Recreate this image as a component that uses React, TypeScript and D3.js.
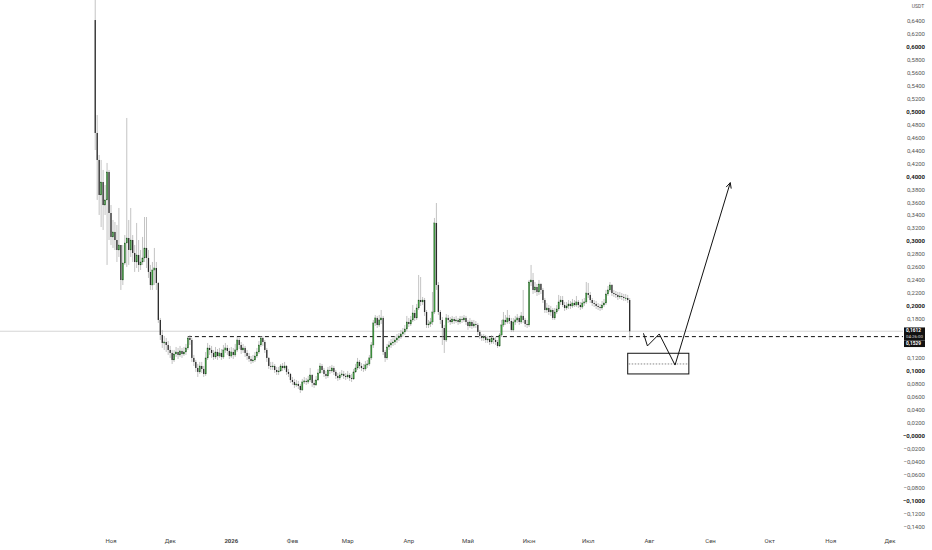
import { useEffect, useRef } from 'react';
import * as d3 from 'd3';

const WIDTH = 932;
const HEIGHT = 550;
const PLOT_RIGHT = 903;

// daily candles, first one on 2025-10-24; open of each day = previous close
const firstDay = '2025-10-24';
const firstOpen = 0.6415;

const closes = [
  0.4672, 0.4255, 0.3715, 0.3915, 0.3560, 0.3638, 0.4070, 0.3437, 0.3067, 0.3144,
  0.3020, 0.2866, 0.2943, 0.2403, 0.2665, 0.2974, 0.3051, 0.2866, 0.3020, 0.2820,
  0.2681, 0.2789, 0.2635, 0.2681, 0.2743, 0.2897, 0.2743, 0.2527, 0.2326, 0.2557,
  0.2588, 0.2357, 0.1786, 0.1554, 0.1431, 0.1446, 0.1400, 0.1323, 0.1277, 0.1169,
  0.1261, 0.1292, 0.1246, 0.1308, 0.1261, 0.1292, 0.1354, 0.1508, 0.1477, 0.1200,
  0.1138, 0.1045, 0.0984, 0.1076, 0.1030, 0.0953, 0.1200, 0.1354, 0.1323, 0.1277,
  0.1215, 0.1292, 0.1230, 0.1277, 0.1215, 0.1323, 0.1354, 0.1308, 0.1230, 0.1292,
  0.1246, 0.1323, 0.1477, 0.1400, 0.1323, 0.1354, 0.1277, 0.1230, 0.1184, 0.1153,
  0.1169, 0.1230, 0.1292, 0.1400, 0.1508, 0.1446, 0.1323, 0.1200, 0.1076, 0.1061,
  0.1076, 0.1014, 0.0984, 0.0999, 0.1076, 0.1045, 0.1076, 0.0984, 0.0953, 0.0860,
  0.0829, 0.0783, 0.0798, 0.0768, 0.0706, 0.0829, 0.0845, 0.0829, 0.0860, 0.0937,
  0.0814, 0.0783, 0.0860, 0.0968, 0.1076, 0.1014, 0.0953, 0.0922, 0.1014, 0.0999,
  0.1045, 0.0984, 0.0922, 0.0891, 0.0937, 0.0953, 0.0922, 0.0906, 0.0937, 0.0891,
  0.0876, 0.0984, 0.1045, 0.1138, 0.1076, 0.1045, 0.1030, 0.1092, 0.1107, 0.1200,
  0.1400, 0.1740, 0.1817, 0.1709, 0.1786, 0.1817, 0.1292, 0.1200, 0.1369, 0.1400,
  0.1431, 0.1446, 0.1477, 0.1508, 0.1539, 0.1570, 0.1601, 0.1647, 0.1755, 0.1724,
  0.1786, 0.1894, 0.1817, 0.1971, 0.2094, 0.2064, 0.2094, 0.1909, 0.1709, 0.1724,
  0.1755, 0.1909, 0.3283, 0.2326, 0.1909, 0.1786, 0.1662, 0.1477, 0.1817, 0.1786,
  0.1755, 0.1801, 0.1770, 0.1786, 0.1755, 0.1801, 0.1786, 0.1817, 0.1755, 0.1693,
  0.1755, 0.1693, 0.1724, 0.1709, 0.1601, 0.1539, 0.1508, 0.1524, 0.1477, 0.1493,
  0.1446, 0.1508, 0.1477, 0.1446, 0.1385, 0.1554, 0.1709, 0.1786, 0.1755, 0.1817,
  0.1770, 0.1632, 0.1755, 0.1786, 0.1817, 0.1755, 0.1848, 0.1786, 0.1724, 0.1709,
  0.2372, 0.2403, 0.2249, 0.2295, 0.2218, 0.2341, 0.2249, 0.2094, 0.1940, 0.1971,
  0.1909, 0.1940, 0.1817, 0.1909, 0.1956, 0.2064, 0.2094, 0.2017, 0.1971, 0.2002,
  0.2033, 0.2002, 0.2048, 0.2017, 0.2064, 0.2017, 0.1986, 0.2048, 0.2064, 0.2202,
  0.2172, 0.2094, 0.2048, 0.2033, 0.2002, 0.1986, 0.1971, 0.2017, 0.2048, 0.2187,
  0.2249, 0.2326, 0.2202, 0.2187, 0.2172, 0.2141, 0.2156, 0.2141, 0.2125, 0.2125,
  0.2094, 0.1612,
];

const highs = [
  0.7000, 0.4949, 0.4332, 0.4255, 0.4101, 0.3869, 0.4209, 0.4101, 0.3560, 0.3329,
  0.3298, 0.3252, 0.3514, 0.2943, 0.2943, 0.3097, 0.4903, 0.3329, 0.3514, 0.3097,
  0.2943, 0.3283, 0.3020, 0.2866, 0.3067, 0.3375, 0.3375, 0.2866, 0.2635, 0.2681,
  0.2897, 0.2681, 0.2372, 0.1817, 0.1632, 0.1539, 0.1508, 0.1462, 0.1385, 0.1323,
  0.1323, 0.1369, 0.1354, 0.1385, 0.1354, 0.1369, 0.1416, 0.1539, 0.1554, 0.1508,
  0.1246, 0.1169, 0.1107, 0.1138, 0.1138, 0.1076, 0.1292, 0.1431, 0.1400, 0.1385,
  0.1323, 0.1369, 0.1338, 0.1354, 0.1338, 0.1400, 0.1431, 0.1400, 0.1354, 0.1369,
  0.1354, 0.1416, 0.1524, 0.1508, 0.1446, 0.1416, 0.1385, 0.1323, 0.1277, 0.1230,
  0.1246, 0.1292, 0.1354, 0.1462, 0.1539, 0.1539, 0.1477, 0.1354, 0.1215, 0.1138,
  0.1138, 0.1107, 0.1061, 0.1061, 0.1107, 0.1122, 0.1138, 0.1092, 0.1030, 0.0968,
  0.0906, 0.0876, 0.0860, 0.0845, 0.0798, 0.0876, 0.0906, 0.0891, 0.0922, 0.1045,
  0.0953, 0.0860, 0.0922, 0.1030, 0.1122, 0.1107, 0.1045, 0.0999, 0.1061, 0.1076,
  0.1092, 0.1076, 0.1014, 0.0968, 0.0984, 0.1014, 0.0999, 0.0968, 0.0999, 0.0968,
  0.0953, 0.1030, 0.1107, 0.1200, 0.1169, 0.1122, 0.1107, 0.1153, 0.1169, 0.1246,
  0.1446, 0.1786, 0.1863, 0.1848, 0.1863, 0.1940, 0.1848, 0.1323, 0.1416, 0.1462,
  0.1493, 0.1508, 0.1539, 0.1570, 0.1585, 0.1632, 0.1662, 0.1709, 0.1848, 0.1817,
  0.1848, 0.2017, 0.1940, 0.2033, 0.2480, 0.2449, 0.2141, 0.2125, 0.1940, 0.1786,
  0.1817, 0.2218, 0.3360, 0.3591, 0.2372, 0.1940, 0.1832, 0.1709, 0.1878, 0.1863,
  0.1832, 0.1848, 0.1832, 0.1848, 0.1817, 0.1848, 0.1848, 0.1863, 0.1848, 0.1786,
  0.1817, 0.1786, 0.1786, 0.1770, 0.1740, 0.1632, 0.1570, 0.1570, 0.1554, 0.1539,
  0.1524, 0.1554, 0.1539, 0.1524, 0.1477, 0.1585, 0.1786, 0.1909, 0.1863, 0.1940,
  0.1863, 0.1817, 0.1817, 0.1848, 0.1878, 0.1848, 0.1909, 0.2249, 0.1817, 0.1786,
  0.2403, 0.2635, 0.2511, 0.2372, 0.2341, 0.2403, 0.2357, 0.2280, 0.2125, 0.2048,
  0.2017, 0.2002, 0.1971, 0.1971, 0.2017, 0.2172, 0.2156, 0.2156, 0.2064, 0.2064,
  0.2094, 0.2079, 0.2110, 0.2094, 0.2156, 0.2094, 0.2064, 0.2110, 0.2125, 0.2372,
  0.2357, 0.2218, 0.2125, 0.2094, 0.2079, 0.2048, 0.2033, 0.2079, 0.2110, 0.2249,
  0.2310, 0.2372, 0.2341, 0.2249, 0.2233, 0.2218, 0.2218, 0.2202, 0.2187, 0.2187,
  0.2172, 0.2125,
];

const lows = [
  0.4409, 0.3638, 0.3406, 0.3221, 0.3175, 0.3406, 0.2635, 0.3020, 0.2943, 0.2897,
  0.2866, 0.2681, 0.2758, 0.2249, 0.2326, 0.2635, 0.2604, 0.2635, 0.2758, 0.2681,
  0.2527, 0.2588, 0.2527, 0.2557, 0.2635, 0.2681, 0.2588, 0.2434, 0.2249, 0.2249,
  0.2326, 0.2249, 0.1740, 0.1477, 0.1354, 0.1323, 0.1292, 0.1246, 0.1200, 0.1107,
  0.1138, 0.1215, 0.1184, 0.1215, 0.1200, 0.1230, 0.1246, 0.1323, 0.1400, 0.1138,
  0.1076, 0.0984, 0.0906, 0.0953, 0.0968, 0.0906, 0.0922, 0.1169, 0.1246, 0.1200,
  0.1169, 0.1184, 0.1169, 0.1200, 0.1169, 0.1184, 0.1277, 0.1246, 0.1184, 0.1200,
  0.1184, 0.1215, 0.1292, 0.1338, 0.1261, 0.1277, 0.1215, 0.1169, 0.1138, 0.1107,
  0.1122, 0.1138, 0.1200, 0.1261, 0.1369, 0.1385, 0.1277, 0.1138, 0.1030, 0.1014,
  0.1014, 0.0968, 0.0937, 0.0937, 0.0984, 0.0999, 0.1014, 0.0937, 0.0906, 0.0814,
  0.0783, 0.0737, 0.0752, 0.0721, 0.0660, 0.0690, 0.0798, 0.0783, 0.0798, 0.0829,
  0.0752, 0.0737, 0.0768, 0.0845, 0.0953, 0.0968, 0.0906, 0.0876, 0.0891, 0.0953,
  0.0968, 0.0937, 0.0876, 0.0845, 0.0860, 0.0906, 0.0876, 0.0860, 0.0876, 0.0845,
  0.0829, 0.0860, 0.0968, 0.1014, 0.1030, 0.0999, 0.0984, 0.0999, 0.1045, 0.1076,
  0.1169, 0.1354, 0.1693, 0.1662, 0.1678, 0.1724, 0.1246, 0.1138, 0.1169, 0.1323,
  0.1354, 0.1385, 0.1400, 0.1431, 0.1462, 0.1493, 0.1524, 0.1554, 0.1616, 0.1678,
  0.1693, 0.1755, 0.1770, 0.1786, 0.1940, 0.2002, 0.2017, 0.1848, 0.1662, 0.1662,
  0.1678, 0.1709, 0.1878, 0.2249, 0.1863, 0.1724, 0.1400, 0.1277, 0.1446, 0.1740,
  0.1709, 0.1724, 0.1724, 0.1740, 0.1709, 0.1724, 0.1740, 0.1755, 0.1709, 0.1632,
  0.1662, 0.1647, 0.1662, 0.1662, 0.1554, 0.1493, 0.1462, 0.1462, 0.1431, 0.1431,
  0.1400, 0.1416, 0.1416, 0.1400, 0.1354, 0.1369, 0.1524, 0.1678, 0.1709, 0.1724,
  0.1724, 0.1601, 0.1601, 0.1709, 0.1740, 0.1709, 0.1724, 0.1740, 0.1678, 0.1662,
  0.1678, 0.2310, 0.2187, 0.2202, 0.2156, 0.2172, 0.2187, 0.2048, 0.1894, 0.1894,
  0.1863, 0.1848, 0.1786, 0.1786, 0.1878, 0.1925, 0.2017, 0.1986, 0.1925, 0.1940,
  0.1956, 0.1956, 0.1971, 0.1986, 0.1986, 0.1971, 0.1940, 0.1956, 0.2002, 0.2033,
  0.2125, 0.2048, 0.2002, 0.1986, 0.1956, 0.1940, 0.1925, 0.1940, 0.1986, 0.2017,
  0.2156, 0.2218, 0.2156, 0.2141, 0.2125, 0.2094, 0.2110, 0.2094, 0.2079, 0.2079,
  0.2048, 0.1477,
];

const monthDates = [
  '2025-11-01', '2025-12-01', '2026-01-01', '2026-02-01', '2026-03-01', '2026-04-01', '2026-05-01',
  '2026-06-01', '2026-07-01', '2026-08-01', '2026-09-01', '2026-10-01', '2026-11-01', '2026-12-01',
];
const monthLabels = ['Ноя', 'Дек', '2026', 'Фев', 'Мар', 'Апр', 'Май', 'Июн', 'Июл', 'Авг', 'Сен', 'Окт', 'Ноя', 'Дек'];

const priceMin = -0.14;
const priceMax = 0.64;
const priceStep = 0.02;
const majorPrices = [0.6, 0.5, 0.4, 0.3, 0.2, 0.1, 0, -0.1];

const lastPrice = 0.1612;
const countdown = '04:26:00';
const levelPrice = 0.1529;
const levelStart = '2025-12-10';

// drawn forecast: zig-zag into the box, then the arrow up
const forecastDates = ['2026-07-29', '2026-07-31', '2026-08-06', '2026-08-14', '2026-09-11'];
const forecastPrices = [0.158, 0.1385, 0.157, 0.109, 0.3905];
const boxDates = ['2026-07-21', '2026-08-21'];
const boxPrices = [0.1272, 0.0953];
const boxMidPrice = 0.1107;

const FONT = 'Roboto, "Liberation Sans", sans-serif';

const fmtPrice = (v: number) => (v < 0.00001 ? '−' : '') + Math.abs(v).toFixed(4).replace('.', ',');

const App = () => {
  const svgRef = useRef<SVGSVGElement | null>(null);

  useEffect(() => {
    if (!svgRef.current) return;
    const svg = d3.select(svgRef.current);
    svg.selectAll('*').remove();

    const x = d3.scaleUtc()
      .domain([new Date(monthDates[0]), new Date(monthDates[monthDates.length - 1])])
      .range([111, 890]);
    const y = d3.scaleLinear().domain([priceMin, priceMax]).range([526.4, 21]);

    const start = new Date(firstDay);
    const candles = closes.map((c, i) => ({
      date: d3.utcDay.offset(start, i),
      open: i === 0 ? firstOpen : closes[i - 1],
      close: c,
      high: highs[i],
      low: lows[i],
    }));

    svg.append('rect').attr('width', WIDTH).attr('height', HEIGHT).attr('fill', '#ffffff');

    // last price line
    svg.append('line')
      .attr('x1', 0).attr('x2', PLOT_RIGHT)
      .attr('y1', y(lastPrice)).attr('y2', y(lastPrice))
      .attr('stroke', '#c9c9c9').attr('stroke-width', 0.8);

    // horizontal level
    svg.append('line')
      .attr('x1', x(new Date(levelStart))).attr('x2', PLOT_RIGHT)
      .attr('y1', y(levelPrice)).attr('y2', y(levelPrice))
      .attr('stroke', '#111').attr('stroke-width', 1)
      .attr('stroke-dasharray', '4,3');

    const g = svg.append('g');
    const bodyW = 1.3;

    g.selectAll('line.wick')
      .data(candles)
      .enter()
      .append('line')
      .attr('class', 'wick')
      .attr('x1', d => x(d.date)).attr('x2', d => x(d.date))
      .attr('y1', d => y(Math.max(d.high, d.open, d.close)))
      .attr('y2', d => y(Math.min(d.low, d.open, d.close)))
      .attr('stroke', '#a9a9a9')
      .attr('stroke-width', 0.7);

    g.selectAll('rect.body')
      .data(candles)
      .enter()
      .append('rect')
      .attr('class', 'body')
      .attr('x', d => x(d.date) - bodyW / 2)
      .attr('width', bodyW)
      .attr('y', d => y(Math.max(d.open, d.close)))
      .attr('height', d => Math.max(0.8, Math.abs(y(d.open) - y(d.close))))
      .attr('fill', d => (d.close >= d.open ? '#3f9a3f' : '#2b2b2b'))
      .attr('stroke', d => (d.close >= d.open ? '#1f4f1f' : 'none'))
      .attr('stroke-width', 0.3);

    // forecast box
    const bx0 = x(new Date(boxDates[0]));
    const bx1 = x(new Date(boxDates[1]));
    svg.append('rect')
      .attr('x', bx0).attr('y', y(boxPrices[0]))
      .attr('width', bx1 - bx0).attr('height', y(boxPrices[1]) - y(boxPrices[0]))
      .attr('fill', 'none').attr('stroke', '#111').attr('stroke-width', 1);
    svg.append('line')
      .attr('x1', bx0 + 1).attr('x2', bx1)
      .attr('y1', y(boxMidPrice)).attr('y2', y(boxMidPrice))
      .attr('stroke', '#555').attr('stroke-width', 0.7)
      .attr('stroke-dasharray', '1.5,1.5');

    // forecast path + arrowhead
    const pts: [number, number][] = forecastDates.map((d, i) => [x(new Date(d)), y(forecastPrices[i])]);
    svg.append('path')
      .attr('d', d3.line()(pts))
      .attr('fill', 'none').attr('stroke', '#111').attr('stroke-width', 1);
    const [tx, ty] = pts[pts.length - 1];
    const [px, py] = pts[pts.length - 2];
    const ang = Math.atan2(ty - py, tx - px);
    const headLen = 6;
    [-0.45, 0.45].forEach(off => {
      svg.append('line')
        .attr('x1', tx).attr('y1', ty)
        .attr('x2', tx - headLen * Math.cos(ang + off))
        .attr('y2', ty - headLen * Math.sin(ang + off))
        .attr('stroke', '#111').attr('stroke-width', 1);
    });

    // price label block (last price + countdown, level price)
    const ly = y(lastPrice);
    const labelTop = ly - 3.8;
    const labelBottom = ly + 15.8;

    // price scale; ticks hidden behind the label block are skipped, like the original
    const ticks = d3.range(Math.round((priceMax - priceMin) / priceStep) + 1)
      .map(k => priceMin + k * priceStep)
      .filter(v => y(v) < labelTop - 2.5 || y(v) > labelBottom + 2.5);
    svg.append('g')
      .selectAll('text')
      .data(ticks)
      .enter()
      .append('text')
      .attr('x', 925)
      .attr('y', d => y(d))
      .attr('dy', '0.35em')
      .attr('text-anchor', 'end')
      .style('font-family', FONT)
      .style('font-size', '6px')
      .style('font-weight', d => (majorPrices.some(m => Math.abs(m - d) < 1e-6) ? 700 : 400))
      .style('fill', d => (majorPrices.some(m => Math.abs(m - d) < 1e-6) ? '#222' : '#555'))
      .text(d => fmtPrice(d));

    svg.append('text')
      .attr('x', 918).attr('y', 8)
      .attr('text-anchor', 'middle')
      .style('font-family', FONT).style('font-size', '5px').style('fill', '#555')
      .text('USDT');

    svg.append('rect').attr('x', 904).attr('y', labelTop).attr('width', 21).attr('height', 13).attr('fill', '#111');
    svg.append('text').attr('x', 906).attr('y', ly - 0.5).attr('dy', '0.32em')
      .style('font-family', FONT).style('font-size', '4.8px').style('font-weight', 700).style('fill', '#fff')
      .text(fmtPrice(lastPrice));
    svg.append('text').attr('x', 906).attr('y', ly + 5.6).attr('dy', '0.32em')
      .style('font-family', FONT).style('font-size', '4.4px').style('fill', '#ddd')
      .text(countdown);
    svg.append('rect').attr('x', 904).attr('y', ly + 9.2).attr('width', 21).attr('height', 6.6).attr('fill', '#111');
    svg.append('text').attr('x', 906).attr('y', ly + 12.5).attr('dy', '0.32em')
      .style('font-family', FONT).style('font-size', '4.8px').style('font-weight', 700).style('fill', '#fff')
      .text(fmtPrice(levelPrice));

    // time scale
    svg.append('g')
      .selectAll('text')
      .data(monthDates)
      .enter()
      .append('text')
      .attr('x', d => x(new Date(d)))
      .attr('y', 543)
      .attr('text-anchor', 'middle')
      .style('font-family', FONT)
      .style('font-size', '6px')
      .style('font-weight', (_, i) => (monthLabels[i] === '2026' ? 700 : 400))
      .style('fill', '#444')
      .text((_, i) => monthLabels[i]);
  }, []);

  return (
    <svg
      ref={svgRef}
      width={WIDTH}
      height={HEIGHT}
      style={{ position: 'absolute', left: 0, top: 0, display: 'block' }}
    />
  );
};

export default App;
